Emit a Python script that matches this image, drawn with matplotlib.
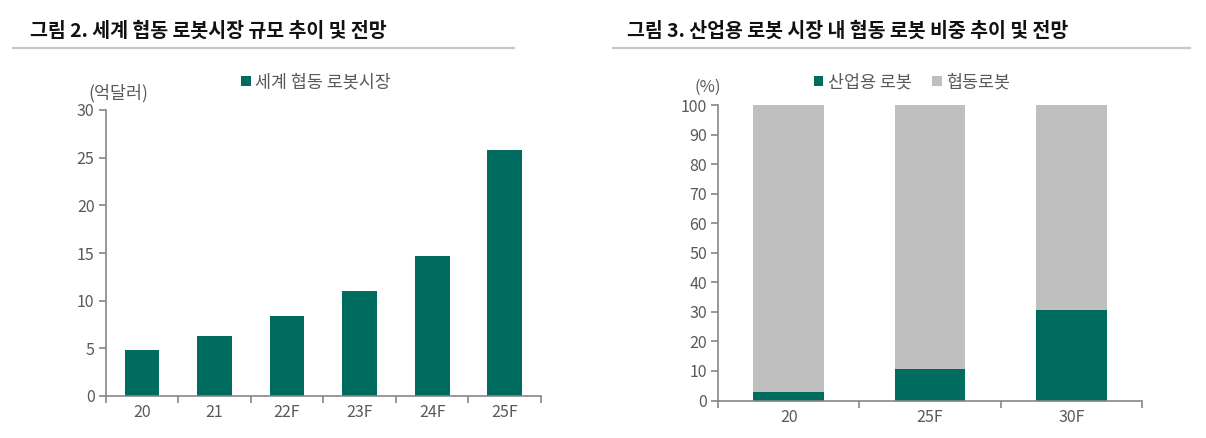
import numpy as np
import matplotlib.pyplot as plt
from matplotlib.lines import Line2D

plt.rcParams['font.family'] = ['Noto Sans CJK KR', 'DejaVu Sans']

# left chart: global collaborative robot market (100M USD)
years_l = ['20', '21', '22F', '23F', '24F', '25F']
market = [4.8, 6.3, 8.4, 11.0, 14.7, 25.8]

# right chart: share within industrial robot market (%)
years_r = ['20', '25F', '30F']
industrial = [3.0, 10.5, 30.5]
collab = [100 - v for v in industrial]

green = '#006B5F'
grey = '#BFBFBF'
txt = '#595959'
axc = '#868686'

W, H = 1206, 438
fig = plt.figure(figsize=(W / 100, H / 100), dpi=100)


def px_axes(x0, x1, ytop, ybot):
    return fig.add_axes([x0 / W, (H - ybot) / H, (x1 - x0) / W, (ybot - ytop) / H])


def style(ax, labels):
    n = len(labels)
    for s in ['top', 'right']:
        ax.spines[s].set_visible(False)
    for s in ['left', 'bottom']:
        ax.spines[s].set_color(axc)
        ax.spines[s].set_linewidth(1.2)
    ax.set_xlim(-0.5, n - 0.5)
    ax.set_xticks(np.arange(n + 1) - 0.5)
    ax.set_xticklabels([''] * (n + 1))
    ax.set_xticks(np.arange(n), minor=True)
    ax.set_xticklabels(labels, minor=True)
    ax.tick_params(axis='x', which='major', length=5, color=axc, width=1.2)
    ax.tick_params(axis='x', which='minor', length=0, pad=6, labelsize=11.5, labelcolor=txt)
    ax.tick_params(axis='y', length=5, color=axc, width=1.2, labelsize=11.5, labelcolor=txt, pad=3)


# titles and rules
fig.text(30 / W, 1 - 31 / H, '그림 2. 세계 협동 로봇시장 규모 추이 및 전망',
         fontsize=14, fontweight='bold', va='center', color='#111111')
fig.text(627 / W, 1 - 31 / H, '그림 3. 산업용 로봇 시장 내 협동 로봇 비중 추이 및 전망',
         fontsize=14, fontweight='bold', va='center', color='#111111')
fig.add_artist(Line2D([13 / W, 514 / W], [1 - 48 / H] * 2, color='#C8C8C8', lw=1.6))
fig.add_artist(Line2D([613 / W, 1190 / W], [1 - 48 / H] * 2, color='#C8C8C8', lw=1.6))

# left chart
ax1 = px_axes(105.7, 541, 110, 396)
ax1.bar(np.arange(len(years_l)), market, width=0.48, color=green, label='세계 협동 로봇시장')
ax1.set_ylim(0, 30)
ax1.set_yticks(np.arange(0, 31, 5))
style(ax1, years_l)
ax1.legend(loc='center', bbox_to_anchor=(316 / W, 1 - 82 / H), bbox_transform=fig.transFigure,
           frameon=False, fontsize=12.5, labelcolor=txt, handlelength=0.55, handleheight=0.55,
           handletextpad=0.25)
fig.text(118 / W, 1 - 93 / H, '(억달러)', fontsize=12.5, color=txt, ha='center', va='center')

# right chart
ax2 = px_axes(718, 1142, 105, 400.5)
xr = np.arange(len(years_r))
ax2.bar(xr, industrial, width=0.5, color=green, label='산업용 로봇')
ax2.bar(xr, collab, bottom=industrial, width=0.5, color=grey, label='협동로봇')
ax2.set_ylim(0, 100)
ax2.set_yticks(np.arange(0, 101, 10))
style(ax2, years_r)
ax2.legend(loc='center', bbox_to_anchor=(912 / W, 1 - 82 / H), bbox_transform=fig.transFigure,
           frameon=False, fontsize=12.5, labelcolor=txt, ncol=2, handlelength=0.55,
           handleheight=0.55, handletextpad=0.25, columnspacing=1.2)
fig.text(708 / W, 1 - 87 / H, '(%)', fontsize=12, color=txt, ha='center', va='center')

fig.savefig('out.png', dpi=100)
